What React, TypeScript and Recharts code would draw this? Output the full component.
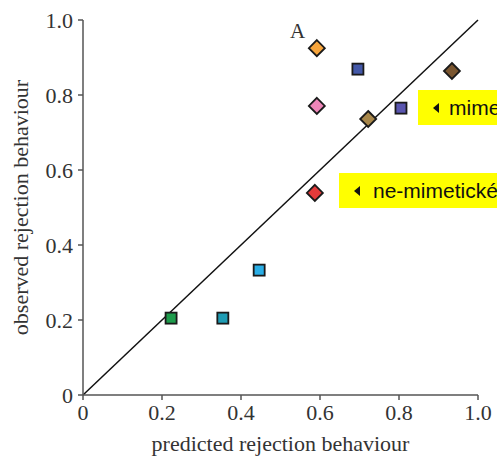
import { ReferenceLine, Scatter, ScatterChart, XAxis, YAxis, Label } from "recharts"

const predicted = [0.592, 0.696, 0.934, 0.592, 0.805, 0.722, 0.587, 0.446, 0.223, 0.354]
const observed = [0.925, 0.869, 0.864, 0.771, 0.765, 0.736, 0.539, 0.333, 0.205, 0.205]
const markerKinds = ["diamond", "square", "diamond", "diamond", "square", "diamond", "diamond", "square", "square", "square"]
const markerColors = ["#f7a53c", "#4358a8", "#7a5630", "#ee86b8", "#5a56b0", "#a8874a", "#e43a3a", "#2aaee6", "#1e9c4c", "#1f9cb4"]
const axisTicks = [0, 0.2, 0.4, 0.6, 0.8, 1.0]

const points = predicted.map((x, i) => ({
  x,
  y: observed[i],
  kind: markerKinds[i],
  color: markerColors[i],
}))

const formatTick = (value: number) => (value === 0 ? "0" : value.toFixed(1))

const serif = "'Liberation Serif', 'DejaVu Serif', serif"
const tickStyle = { fill: "#333", fontSize: 22, fontFamily: serif }
const axisStroke = "#555"

const renderMarker = (props: any) => {
  const { cx, cy, payload } = props
  if (payload.kind === "diamond") {
    const r = 8
    return (
      <polygon
        points={`${cx},${cy - r} ${cx + r},${cy} ${cx},${cy + r} ${cx - r},${cy}`}
        fill={payload.color}
        stroke="#1a1a1a"
        strokeWidth={1.8}
      />
    )
  }
  const s = 11
  return (
    <rect x={cx - s / 2} y={cy - s / 2} width={s} height={s} fill={payload.color} stroke="#1a1a1a" strokeWidth={1.8} />
  )
}

const yellowBox = {
  position: "absolute" as const,
  background: "#ffff00",
  height: 35,
  display: "flex",
  alignItems: "center",
  fontFamily: "'Liberation Sans', Arial, sans-serif",
  fontSize: 21,
  color: "#111",
  whiteSpace: "nowrap" as const,
}

const Arrow = ({ left, right }: { left: number; right: number }) => (
  <svg width={6} height={10} style={{ marginLeft: left, marginRight: right }}>
    <polygon points="6,0 0,5 6,10" fill="#111" />
  </svg>
)

export default function App() {
  return (
    <div style={{ position: "fixed", left: 0, top: 0, width: 497, height: 459, overflow: "hidden", background: "#fff" }}>
      <ScatterChart width={497} height={459} margin={{ top: 20, right: 19, left: 0, bottom: 0 }}>
        <XAxis
          type="number"
          dataKey="x"
          domain={[0, 1]}
          ticks={axisTicks}
          tickFormatter={formatTick}
          tick={tickStyle}
          height={64}
          tickSize={5}
          tickMargin={4}
          axisLine={{ stroke: axisStroke, strokeWidth: 1.5 }}
          tickLine={{ stroke: axisStroke, strokeWidth: 1.5 }}
        >
          <Label
            value="predicted rejection behaviour"
            position="insideBottom"
            offset={8}
            style={{ fill: "#333", fontSize: 22, fontFamily: serif }}
          />
        </XAxis>
        <YAxis
          type="number"
          dataKey="y"
          domain={[0, 1]}
          ticks={axisTicks}
          tickFormatter={formatTick}
          tick={tickStyle}
          width={83}
          tickSize={5}
          tickMargin={5}
          axisLine={{ stroke: axisStroke, strokeWidth: 1.5 }}
          tickLine={{ stroke: axisStroke, strokeWidth: 1.5 }}
        >
          <Label
            value="observed rejection behaviour"
            angle={-90}
            position="insideLeft"
            offset={20}
            style={{ textAnchor: "middle", fill: "#333", fontSize: 22, fontFamily: serif }}
          />
        </YAxis>
        <ReferenceLine
          segment={[{ x: 0, y: 0 }, { x: 1, y: 1 }]}
          stroke="#111"
          strokeWidth={1.5}
          ifOverflow="visible"
        />
        <Scatter data={points} shape={renderMarker} isAnimationActive={false} />
      </ScatterChart>
      <div
        style={{
          position: "absolute",
          left: 290,
          top: 19,
          fontFamily: serif,
          fontSize: 21,
          color: "#333",
        }}
      >
        A
      </div>
      <div style={{ ...yellowBox, left: 418, top: 90, width: 140 }}>
        <Arrow left={15} right={10} />mimetické
      </div>
      <div style={{ ...yellowBox, left: 339, top: 173, width: 200 }}>
        <Arrow left={15} right={13} />ne-mimetické
      </div>
    </div>
  )
}
